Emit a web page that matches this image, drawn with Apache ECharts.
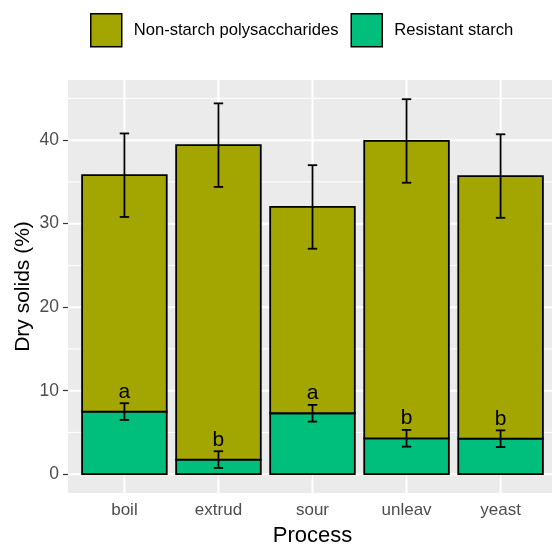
<!DOCTYPE html>
<html><head><meta charset="utf-8">
<script src="https://cdn.jsdelivr.net/npm/echarts@6/dist/echarts.min.js"></script>
<style>html,body{margin:0;padding:0;background:#fff}#c{width:552px;height:544px}</style>
</head><body><div id="c"></div>
<script>
const categories = ['boil', 'extrud', 'sour', 'unleav', 'yeast'];
const totalMean = [35.8, 39.4, 32.0, 39.9, 35.7];
const totalErr = [5.0, 5.0, 5.0, 5.0, 5.0];
const rsMean = [7.5, 1.75, 7.3, 4.3, 4.25];
const rsErr = [1.0, 1.0, 1.0, 1.0, 1.0];
const rsLetters = ['a', 'b', 'a', 'b', 'b'];
const yTicks = [0, 10, 20, 30, 40];
const yMinor = [5, 15, 25, 35, 45];

const NSP = '#A3A500', RS = '#00BF7D';
const FONT = '"Liberation Sans", Arial, sans-serif';
const XMIN = 0.4, XMAX = 5.6, YMIN = -2.25, YMAX = 47.2;
const xs = categories.map((c, i) => i + 1);

function barSeries(name, color, data) {
  return {
    type: 'custom', name, z: 3,
    data,
    renderItem(params, api) {
      const x = api.value(0), y0 = api.value(1), y1 = api.value(2);
      const p0 = api.coord([x - 0.45, y1]);
      const p1 = api.coord([x + 0.45, y0]);
      return { type: 'rect', shape: { x: p0[0], y: p0[1], width: p1[0] - p0[0], height: p1[1] - p0[1] },
        style: { fill: color, stroke: '#000', lineWidth: 1.8 } };
    }
  };
}
function errSeries(data) {
  return {
    type: 'custom', z: 4, silent: true, data,
    renderItem(params, api) {
      const x = api.value(0), m = api.value(1), e = api.value(2);
      const top = api.coord([x, m + e]), bot = api.coord([x, m - e]);
      const l = api.coord([x - 0.05, m])[0], r = api.coord([x + 0.05, m])[0];
      const st = { stroke: '#000', lineWidth: 1.8 };
      return { type: 'group', children: [
        { type: 'line', shape: { x1: top[0], y1: top[1], x2: bot[0], y2: bot[1] }, style: st },
        { type: 'line', shape: { x1: l, y1: top[1], x2: r, y2: top[1] }, style: st },
        { type: 'line', shape: { x1: l, y1: bot[1], x2: r, y2: bot[1] }, style: st }
      ] };
    }
  };
}
function hGrid(values, w) {
  return {
    type: 'custom', z: 1, silent: true, data: values.map(v => [v]),
    renderItem(params, api) {
      const v = api.value(0);
      const a = api.coord([XMIN, v]), b = api.coord([XMAX, v]);
      return { type: 'line', shape: { x1: a[0], y1: a[1], x2: b[0], y2: b[1] }, style: { stroke: '#fff', lineWidth: w } };
    }
  };
}
function vGrid(values, w) {
  return {
    type: 'custom', z: 1, silent: true, data: values.map(v => [v]),
    renderItem(params, api) {
      const v = api.value(0);
      const a = api.coord([v, YMIN]), b = api.coord([v, YMAX]);
      return { type: 'line', shape: { x1: a[0], y1: a[1], x2: b[0], y2: b[1] }, style: { stroke: '#fff', lineWidth: w } };
    }
  };
}
const labelSeries = {
  type: 'custom', z: 5, silent: true,
  data: xs.map((x, i) => [x, rsMean[i] + rsErr[i], i]),
  renderItem(params, api) {
    const p = api.coord([api.value(0), api.value(1)]);
    return { type: 'text', x: p[0], y: p[1] - 1,
      style: { text: rsLetters[api.value(2)], fill: '#000', font: '21px ' + FONT, align: 'center', verticalAlign: 'bottom' } };
  }
};

const chart = echarts.init(document.getElementById('c'), null, { renderer: 'canvas' });
chart.setOption({
  animation: false,
  backgroundColor: '#fff',
  grid: { left: 68, top: 80, width: 489, height: 413, show: true, backgroundColor: '#EBEBEB', borderWidth: 0,
    outerBoundsMode: 'none', containLabel: false },
  legend: {
    left: 85, top: 8, icon: 'rect', itemWidth: 31, itemHeight: 33, itemGap: 12,
    textStyle: { fontFamily: FONT, fontSize: 16.6, color: '#000', padding: [0, 0, 0, 7] },
    data: [
      { name: 'Non-starch polysaccharides', itemStyle: { color: NSP, borderColor: '#000', borderWidth: 1.5 } },
      { name: 'Resistant starch', itemStyle: { color: RS, borderColor: '#000', borderWidth: 1.5 } }
    ]
  },
  xAxis: {
    type: 'value', min: XMIN, max: XMAX,
    name: 'Process', nameLocation: 'middle', nameGap: 32, nameMoveOverlap: false,
    nameTextStyle: { fontFamily: FONT, fontSize: 22, color: '#000' },
    axisLine: { show: false }, splitLine: { show: false },
    axisTick: { show: true, length: 5, lineStyle: { color: '#333', width: 1.2 }, customValues: xs },
    axisLabel: { fontFamily: FONT, fontSize: 17, color: '#4D4D4D', margin: 9, customValues: xs,
      formatter: v => categories[Math.round(v) - 1] || '' }
  },
  yAxis: {
    type: 'value', min: YMIN, max: YMAX,
    name: 'Dry solids (%)', nameLocation: 'middle', nameGap: 34, nameMoveOverlap: false,
    nameTextStyle: { fontFamily: FONT, fontSize: 21, color: '#000' },
    axisLine: { show: false }, splitLine: { show: false },
    axisTick: { show: true, length: 5, lineStyle: { color: '#333', width: 1.2 }, customValues: yTicks },
    axisLabel: { fontFamily: FONT, fontSize: 17.5, color: '#4D4D4D', margin: 9, customValues: yTicks }
  },
  series: [
    hGrid(yMinor, 1), hGrid(yTicks, 2), vGrid(xs, 2),
    barSeries('Resistant starch', RS, xs.map((x, i) => [x, 0, rsMean[i]])),
    barSeries('Non-starch polysaccharides', NSP, xs.map((x, i) => [x, rsMean[i], totalMean[i]])),
    errSeries(xs.map((x, i) => [x, totalMean[i], totalErr[i]])),
    errSeries(xs.map((x, i) => [x, rsMean[i], rsErr[i]])),
    labelSeries
  ]
});
</script></body></html>
